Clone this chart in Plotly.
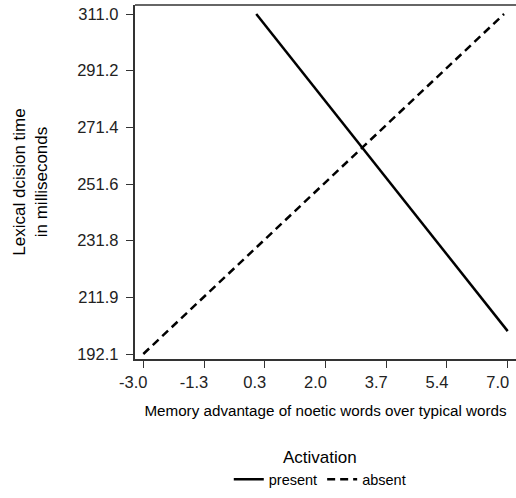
import plotly.graph_objects as go

# Data
present_x = [0.1, 7.0]
present_y = [311.0, 200.1]
absent_x = [-3.0, 6.9]
absent_y = [192.1, 311.0]

x_tickvals = [-3.0, -1.3333, 0.3333, 2.0, 3.6667, 5.3333, 7.0]
x_ticktext = ["-3.0", "-1.3", "0.3", "2.0", "3.7", "5.4", "7.0"]
y_tickvals = [192.1, 211.917, 231.733, 251.55, 271.367, 291.183, 311.0]
y_ticktext = ["192.1", "211.9", "231.8", "251.6", "271.4", "291.2", "311.0"]

FONT = "Liberation Sans, Arial, sans-serif"

fig = go.Figure()
fig.add_trace(go.Scatter(x=present_x, y=present_y, mode="lines", name="present",
                         line=dict(color="black", width=2.5, dash="solid")))
fig.add_trace(go.Scatter(x=absent_x, y=absent_y, mode="lines", name="absent",
                         line=dict(color="black", width=2.5, dash="8px,5px")))

fig.update_layout(
    width=516, height=498,
    margin=dict(l=135, r=0, t=5, b=139),
    plot_bgcolor="white", paper_bgcolor="white",
    font=dict(family=FONT, color="black", size=14),
    showlegend=True,
    legend=dict(
        orientation="h", x=0.485, xanchor="center", y=-0.232, yanchor="top",
        title=dict(text="Activation", side="top center", font=dict(size=17)),
        font=dict(size=14.5),
    ),
    xaxis=dict(
        range=[-3.228, 7.228], showgrid=False, zeroline=False,
        showline=True, linecolor="#333333", linewidth=1.5,
        ticks="outside", ticklen=7.5, tickwidth=1.2, tickcolor="#333333",
        tickvals=x_tickvals, ticktext=x_ticktext,
        tickfont=dict(size=16.5, color="#222222"),
        ticklabelshift=-10, ticklabeloverflow="allow",
        ticklabelstandoff=0,
        title=dict(text="Memory advantage of noetic words over typical words",
                   font=dict(size=15.2), standoff=15),
    ),
    yaxis=dict(
        range=[190.35, 314.15], showgrid=False, zeroline=False,
        showline=True, linecolor="#333333", linewidth=1.5,
        ticks="outside", ticklen=7.5, tickwidth=1.2, tickcolor="#333333",
        tickvals=y_tickvals, ticktext=y_ticktext,
        tickfont=dict(size=16.5, color="#222222"),
        ticklabelstandoff=4,
        title=dict(text="Lexical dcision time<br>in milliseconds",
                   font=dict(size=17), standoff=25),
    ),
    shapes=[dict(type="line", xref="paper", yref="paper", x0=0, x1=1, y0=1, y1=1,
                 line=dict(color="#333333", width=1.5))],
)

fig.write_html("out.html")
